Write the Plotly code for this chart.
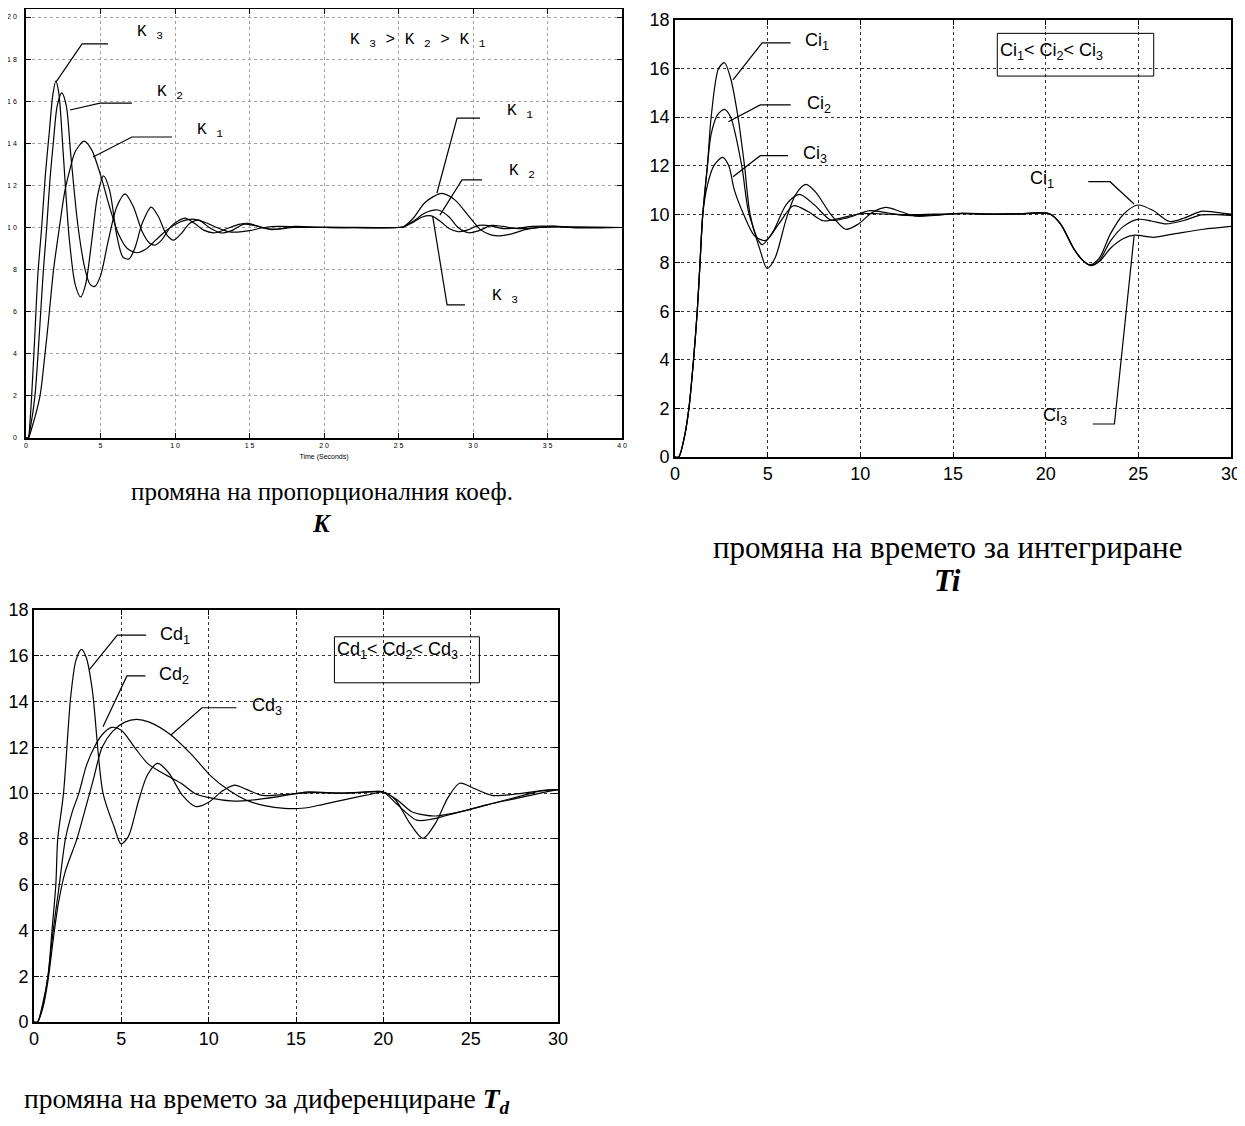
import plotly.graph_objects as go

# ---------------- Data: proportional gain K (top-left) ----------------
k3_t = [0, 0.15, 0.25, 0.38, 0.6, 0.8, 1.05, 1.3, 1.56, 1.8, 2.0, 2.2, 2.5, 2.9, 3.3, 3.67, 4.0, 4.4, 4.8, 5.2,
        5.6, 6.1, 6.5, 6.9, 7.3, 7.8, 8.4, 8.9, 9.4, 9.9, 10.4, 11.0, 11.6, 12.3, 13.1, 13.8, 14.6, 15.3, 16.5,
        18, 20, 22, 25, 25.3, 26.0, 26.6, 27.2, 27.8, 28.4, 29.0, 29.7, 30.4, 31.2, 32.0, 33, 34, 35.5, 37, 40]
k3_y = [0, 0, 0.6, 2, 5, 7.8, 10, 12.5, 14.5, 16.3, 16.95, 16.4, 13.5, 9.5, 7.3, 6.7, 7.3, 9.3, 11.5, 12.45,
        11.8, 9.6, 8.6, 8.5, 9.0, 10.2, 10.97, 10.5, 9.7, 9.4, 9.7, 10.2, 10.35, 10.0, 9.74, 9.85, 10.15, 10.1, 9.9,
        10.05, 10.0, 10.0, 10.0, 10.02, 10.25, 10.5, 10.55, 10.3, 9.95, 9.8, 9.9, 10.1, 10.08, 9.95, 9.97, 10.05, 10.05, 9.98, 10.0]

k2_t = [0, 0.15, 0.3, 0.6, 0.9, 1.15, 1.39, 1.6, 1.83, 2.1, 2.4, 2.7, 3.0, 3.5, 4.0, 4.3, 4.62, 5.0, 5.5, 6.1,
        6.65, 7.2, 7.8, 8.3, 8.67, 9.1, 9.8, 10.67, 11.3, 12.0, 12.7, 13.5, 14.3, 14.9, 15.6, 16.5, 18, 20, 25,
        25.3, 26.0, 26.8, 27.65, 28.4, 29.0, 29.7, 30.4, 31.25, 32.0, 33.0, 34, 35.4, 36.5, 40]
k2_y = [0, 0, 0.5, 2, 5, 7.8, 10, 12.2, 14, 15.8, 16.4, 15.8, 13.5, 10.0, 7.9, 7.3, 7.2, 7.7, 9.3, 11.0,
        11.6, 11.0, 9.8, 9.25, 9.17, 9.4, 10.1, 10.45, 10.2, 9.85, 9.75, 9.95, 10.15, 10.2, 10.05, 9.92, 10.0, 10.02, 10.0,
        10.02, 10.3, 10.7, 10.83, 10.5, 10.0, 9.75, 9.85, 10.1, 10.05, 9.95, 9.97, 10.07, 10.02, 10.0]

k1_t = [0, 0.15, 0.4, 0.94, 1.2, 1.5, 1.85, 2.24, 2.6, 3.0, 3.3, 3.9, 4.4, 5.0, 5.6, 6.2, 6.8, 7.45, 8.0, 8.7,
        9.5, 10.3, 11.2, 12.0, 12.8, 13.5, 14.2, 15.0, 16.0, 17, 18.5, 20, 25, 25.3, 26.0, 26.8, 27.9, 28.8, 29.7,
        30.5, 31.2, 31.8, 32.6, 33.5, 34.5, 36, 40]
k1_y = [0, 0, 0.5, 2, 3.5, 5.5, 8, 10, 11.7, 12.9, 13.6, 14.1, 13.7, 12.5, 11.0, 9.7, 9.0, 8.8, 8.95, 9.4,
        9.9, 10.25, 10.4, 10.25, 10.0, 9.82, 9.78, 9.85, 10.0, 10.05, 10.02, 10.0, 10.0, 10.02, 10.45, 11.2, 11.62, 11.3, 10.55,
        9.9, 9.65, 9.6, 9.7, 9.9, 10.0, 10.03, 10.0]

# ---------------- Data: integration time Ti (top-right) ----------------
ci1_t = [0, 0.2, 0.5, 0.75, 1.0, 1.2, 1.35, 1.5, 1.75, 1.95, 2.35, 2.67, 3.0, 3.4, 3.75, 4.05, 4.6, 4.97, 5.4,
         6.0, 6.5, 7.07, 7.6, 8.4, 9.21, 9.9, 10.6, 11.38, 12.2, 13.0, 14, 15.5, 17, 18.5, 20.2, 20.8, 21.5, 22.0,
         22.43, 22.9, 23.5, 24.2, 24.98, 25.8, 26.68, 27.5, 28.38, 29.2, 30]
ci1_y = [0, 0, 0.8, 2, 4, 6, 8, 10, 12, 14, 16, 16.24, 15.6, 14, 12, 10, 8.5, 7.77, 8.2,
         9.8, 10.8, 11.23, 10.9, 10.0, 9.38, 9.6, 10.05, 10.28, 10.1, 9.92, 9.95, 10.05, 10.0, 10.02, 10.02, 9.6, 8.6, 8.1,
         7.92, 8.2, 9.2, 10.0, 10.38, 10.15, 9.7, 9.85, 10.12, 10.08, 10.0]

ci2_t = [0, 0.2, 0.5, 0.75, 1.0, 1.2, 1.35, 1.5, 1.75, 1.95, 2.3, 2.67, 3.0, 3.6, 4.0, 4.7, 5.3, 6.0, 6.71,
         7.5, 8.41, 9.3, 10.5, 11.5, 12.5, 14, 15.5, 17, 18.5, 20.2, 20.8, 21.5, 22.0, 22.43, 22.9, 23.5, 24.2,
         24.98, 25.7, 26.5, 27.5, 28.4, 29.2, 30]
ci2_y = [0, 0, 0.8, 2, 4, 6, 8, 10, 12, 13.3, 14.1, 14.32, 14.0, 12, 10, 8.75, 9.3, 10.4, 10.82,
         10.4, 9.76, 9.85, 10.15, 10.05, 9.95, 9.97, 10.03, 10.0, 10.02, 10.02, 9.6, 8.6, 8.1, 7.9, 8.1, 8.9, 9.5,
         9.79, 9.72, 9.6, 9.75, 9.97, 9.98, 9.95]

ci3_t = [0, 0.2, 0.5, 0.75, 1.0, 1.2, 1.35, 1.5, 1.75, 2.1, 2.56, 2.9, 3.2, 3.7, 4.3, 4.9, 5.6, 6.39, 7.2,
         8.0, 9.0, 10.0, 11.0, 12.5, 14, 15.5, 17, 18.5, 20.2, 20.8, 21.5, 22.0, 22.43, 22.9, 23.5, 24.2, 24.8,
         25.8, 27.0, 28.5, 30]
ci3_y = [0, 0, 0.8, 2, 4, 6, 8, 10, 11.2, 12.0, 12.34, 12.0, 11.0, 10.0, 9.1, 8.92, 9.6, 10.35, 10.1,
         9.73, 9.85, 10.02, 10.02, 9.98, 10.0, 10.02, 10.0, 10.0, 10.02, 9.6, 8.6, 8.1, 7.88, 8.05, 8.6, 9.0, 9.14,
         9.05, 9.2, 9.38, 9.5]

# ---------------- Data: derivative time Td (bottom-left) ----------------
cd1_t = [0, 0.2, 0.5, 0.8, 1.03, 1.25, 1.36, 1.69, 2.1, 2.4, 2.72, 3.0, 3.34, 3.95, 4.6, 4.98, 5.4, 6.0, 6.5,
         7.08, 7.7, 8.5, 9.27, 10.0, 10.8, 11.48, 12.2, 13.1, 14.5, 16, 18, 20.0, 20.7, 21.5, 22.27, 23.0, 23.7,
         24.37, 25.2, 26.2, 27.5, 29, 30]
cd1_y = [0, 0, 0.8, 2, 4, 6, 8, 10, 14.2, 15.8, 16.28, 15.9, 14.5, 10, 8.5, 7.78, 8.1, 9.7, 10.8,
         11.3, 10.9, 9.9, 9.41, 9.6, 10.1, 10.35, 10.15, 9.9, 9.95, 10.02, 10.0, 10.05, 9.7, 8.7, 8.02, 8.7, 9.8,
         10.43, 10.2, 9.9, 9.95, 10.1, 10.15]

cd2_t = [0, 0.2, 0.5, 0.8, 1.1, 1.45, 1.8, 2.2, 2.57, 3.0, 3.45, 3.9, 4.44, 5.0, 5.76, 6.5, 7.3, 8.4, 9.3,
         10.4, 11.5, 12.5, 14, 15.7, 17.5, 19.3, 20.0, 20.8, 21.9, 22.7, 23.5, 25, 26.5, 28, 29, 30]
cd2_y = [0, 0, 0.7, 2, 4, 6, 8, 9.2, 10, 11.2, 12, 12.55, 12.87, 12.75, 12.0, 11.3, 10.9, 10.44, 9.95,
         9.75, 9.65, 9.7, 9.85, 10.05, 10.0, 10.05, 10.05, 9.5, 8.82, 8.85, 9.0, 9.3, 9.6, 9.9, 10.1, 10.15]

cd3_t = [0, 0.2, 0.5, 0.8, 1.1, 1.4, 1.8, 2.46, 2.9, 3.4, 3.9, 4.5, 5.2, 5.87, 6.6, 7.84, 9.0, 10.16, 11.2,
         12.14, 13.2, 14.34, 15.5, 16.5, 18, 19.3, 20.0, 20.8, 21.6, 22.3, 23.0, 24.5, 26, 27.5, 29, 30]
cd3_y = [0, 0, 0.6, 1.8, 3.6, 5.2, 6.6, 8, 9.2, 10.6, 12, 12.7, 13.1, 13.22, 13.1, 12.54, 11.7, 10.72, 10.1,
         9.7, 9.45, 9.33, 9.35, 9.5, 9.75, 9.95, 10.05, 9.7, 9.2, 9.05, 9.0, 9.2, 9.5, 9.75, 10.0, 10.15]

# ---------------- Tick labels ----------------
k_xticks = [0, 5, 10, 15, 20, 25, 30, 35, 40]
k_xlabels = ["0", "5", "1 0", "1 5", "2 0", "2 5", "3 0", "3 5", "4 0"]
k_yticks = [0, 2, 4, 6, 8, 10, 12, 14, 16, 18, 20]
k_ylabels = ["0", "2", "4", "6", "8", "1 0", "1 2", "1 4", "1 6", "1 8", "2 0"]
t30_ticks = [0, 5, 10, 15, 20, 25, 30]
y18_ticks = [0, 2, 4, 6, 8, 10, 12, 14, 16, 18]

# ---------------- Leader lines (data coords) ----------------
k_leaders = [
    ([5.5, 3.76, 2.01], [18.72, 18.72, 16.91]),
    ([7.11, 4.97, 2.95], [15.91, 15.91, 15.58]),
    ([9.8, 7.11, 4.5], [14.3, 14.3, 13.35]),
    ([30.47, 28.93, 27.58], [15.2, 15.2, 11.64]),
    ([30.6, 29.26, 27.78], [12.26, 12.26, 10.59]),
    ([29.46, 28.26, 27.3], [6.32, 6.32, 10.5]),
]
ci_leaders = [
    ([6.24, 4.70, 3.13], [17.06, 17.06, 15.53]),
    ([6.24, 4.60, 2.88], [14.5, 14.5, 13.81]),
    ([6.1, 4.60, 3.13], [12.41, 12.41, 11.54]),
    ([22.3, 23.47, 24.77], [11.34, 11.34, 10.42]),
    ([22.54, 23.71, 24.77], [1.36, 1.36, 9.1]),
]
cd_leaders = [
    ([6.42, 4.77, 3.16], [16.9, 16.9, 15.38]),
    ([6.38, 5.32, 3.95], [15.12, 15.12, 12.9]),
    ([11.59, 9.62, 7.84], [13.73, 13.73, 12.54]),
]

# The page body adds an 8px margin; the figure is sized and positioned to compensate.
OFF = 8
W, H = 1245 - OFF, 1126 - OFF


def dom_x(a, b):
    return [(a - OFF) / W, (b - OFF) / W]


def dom_y(top, bottom):
    return [1 - (bottom - OFF) / H, 1 - (top - OFF) / H]


fig = go.Figure()

line_style = dict(color="black", width=1.2, shape="spline", smoothing=0.8)
lead_style = dict(color="black", width=1.2)

for tt, yy in [(k3_t, k3_y), (k2_t, k2_y), (k1_t, k1_y)]:
    fig.add_trace(go.Scatter(x=tt, y=yy, mode="lines", line=line_style, xaxis="x", yaxis="y",
                             showlegend=False, hoverinfo="skip"))
for xx, yy in k_leaders:
    fig.add_trace(go.Scatter(x=xx, y=yy, mode="lines", line=lead_style, xaxis="x", yaxis="y",
                             showlegend=False, hoverinfo="skip"))

for tt, yy in [(ci1_t, ci1_y), (ci2_t, ci2_y), (ci3_t, ci3_y)]:
    fig.add_trace(go.Scatter(x=tt, y=yy, mode="lines", line=line_style, xaxis="x2", yaxis="y2",
                             showlegend=False, hoverinfo="skip"))
for xx, yy in ci_leaders:
    fig.add_trace(go.Scatter(x=xx, y=yy, mode="lines", line=lead_style, xaxis="x2", yaxis="y2",
                             showlegend=False, hoverinfo="skip"))

for tt, yy in [(cd1_t, cd1_y), (cd2_t, cd2_y), (cd3_t, cd3_y)]:
    fig.add_trace(go.Scatter(x=tt, y=yy, mode="lines", line=line_style, xaxis="x3", yaxis="y3",
                             showlegend=False, hoverinfo="skip"))
for xx, yy in cd_leaders:
    fig.add_trace(go.Scatter(x=xx, y=yy, mode="lines", line=lead_style, xaxis="x3", yaxis="y3",
                             showlegend=False, hoverinfo="skip"))

small_font = dict(family="Liberation Sans, Arial", size=7, color="black")
big_font = dict(family="Liberation Sans, Arial", size=18, color="black")

common = dict(showline=True, linecolor="black", mirror="ticks", ticks="inside", ticklen=5,
              tickcolor="black", showgrid=True, griddash="dot", zeroline=False, automargin=False)

fig.update_layout(
    width=W, height=H, margin=dict(l=0, r=0, t=0, b=0, autoexpand=False),
    paper_bgcolor="white", plot_bgcolor="white",
    font=dict(color="black"),
    xaxis=dict(domain=dom_x(26, 622), range=[0, 40], tickvals=k_xticks, ticktext=k_xlabels,
               tickfont=small_font, gridcolor="#a0a0a0", linewidth=1.6, anchor="y",
               title=dict(text="Time (Seconds)",
                          font=dict(family="Liberation Sans, Arial", size=7, color="black"), standoff=6),
               **common),
    yaxis=dict(domain=dom_y(9, 438), range=[0, 20.38], tickvals=k_yticks, ticktext=k_ylabels,
               tickfont=small_font, gridcolor="#a0a0a0", linewidth=1.6, anchor="x", ticklabelstandoff=6,
               **common),
    xaxis2=dict(domain=dom_x(675, 1231), range=[0, 30], tickvals=t30_ticks, tickfont=big_font,
                gridcolor="#333333", linewidth=1.6, anchor="y2", **common),
    yaxis2=dict(domain=dom_y(20, 457), range=[0, 18], tickvals=y18_ticks, tickfont=big_font,
                gridcolor="#333333", linewidth=1.6, anchor="x2", **common),
    xaxis3=dict(domain=dom_x(34, 558), range=[0, 30], tickvals=t30_ticks, tickfont=big_font,
                gridcolor="#333333", linewidth=1.6, anchor="y3", **common),
    yaxis3=dict(domain=dom_y(610, 1022), range=[0, 18], tickvals=y18_ticks, tickfont=big_font,
                gridcolor="#333333", linewidth=1.6, anchor="x3", **common),
)

mono = dict(family="Liberation Mono, Courier New", size=16, color="black")
arial = dict(family="Liberation Sans, Arial", size=18, color="black")

k_labels = [
    (7.3, 19.24, "K <sub>3</sub>"),
    (8.66, 16.4, "K <sub>2</sub>"),
    (11.34, 14.63, "K <sub>1</sub>"),
    (21.6, 18.86, "K <sub>3</sub> > K <sub>2</sub> > K <sub>1</sub>"),
    (32.15, 15.49, "K <sub>1</sub>"),
    (32.28, 12.64, "K <sub>2</sub>"),
    (31.14, 6.7, "K <sub>3</sub>"),
]
for x, y, s in k_labels:
    fig.add_annotation(x=x, y=y, xref="x", yref="y", text=s, showarrow=False, xanchor="left",
                       yanchor="middle", font=mono)

ci_labels = [
    (6.92, 17.1, "Ci<sub>1</sub>"),
    (7.0, 14.5, "Ci<sub>2</sub>"),
    (6.8, 12.45, "Ci<sub>3</sub>"),
    (19.03, 11.41, "Ci<sub>1</sub>"),
    (19.77, 1.66, "Ci<sub>3</sub>"),
    (17.45, 16.69, "Ci<sub>1</sub>< Ci<sub>2</sub>< Ci<sub>3</sub>"),
]
for x, y, s in ci_labels:
    fig.add_annotation(x=x, y=y, xref="x2", yref="y2", text=s, showarrow=False, xanchor="left",
                       yanchor="middle", font=arial)
fig.add_shape(type="rect", xref="x2", yref="y2", x0=17.39, x1=25.83, y0=15.69, y1=17.45,
              line=dict(color="black", width=1), fillcolor="rgba(0,0,0,0)")

cd_labels = [
    (7.08, 16.9, "Cd<sub>1</sub>"),
    (7.04, 15.16, "Cd<sub>2</sub>"),
    (12.36, 13.77, "Cd<sub>3</sub>"),
    (17.25, 16.25, "Cd<sub>1</sub>< Cd<sub>2</sub>< Cd<sub>3</sub>"),
]
for x, y, s in cd_labels:
    fig.add_annotation(x=x, y=y, xref="x3", yref="y3", text=s, showarrow=False, xanchor="left",
                       yanchor="middle", font=arial)
fig.add_shape(type="rect", xref="x3", yref="y3", x0=17.2, x1=25.5, y0=14.82, y1=16.83,
              line=dict(color="black", width=1), fillcolor="rgba(0,0,0,0)")

serif = "Liberation Serif, Times New Roman"
captions = [
    (322, 491, "промяна на пропорционалния коеф.", "center", 25),
    (322, 523, "<b><i>K</i></b>", "center", 25),
    (947, 547, "промяна на времето за интегриране", "center", 31),
    (947, 580, "<b><i>Ti</i></b>", "center", 31),
    (22, 1100, "промяна на времето за диференциране <b><i>T<sub>d</sub></i></b>", "left", 27.5),
]
for px, py, s, anc, fs in captions:
    fig.add_annotation(x=(px - OFF) / W, y=1 - (py - OFF) / H, xref="paper", yref="paper", text=s,
                       showarrow=False, xanchor=anc, yanchor="middle",
                       font=dict(family=serif, size=fs, color="black"))

fig.write_html("out.html")
